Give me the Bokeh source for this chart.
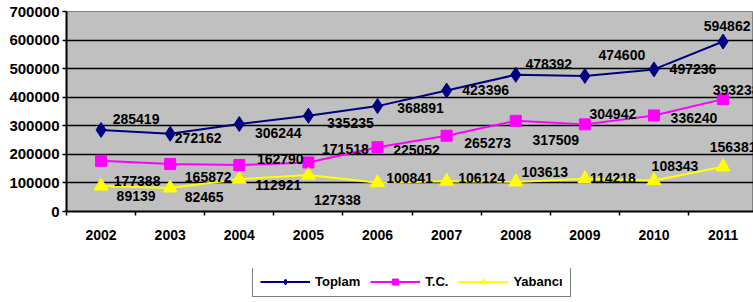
from bokeh.plotting import figure
from bokeh.layouts import column
from bokeh.models import (ColumnDataSource, FixedTicker, NumeralTickFormatter, Legend,
                          LegendItem, Range1d)
from bokeh.core.properties import value
from bokeh.embed import file_html
from bokeh.resources import INLINE

years = ["2002", "2003", "2004", "2005", "2006", "2007", "2008", "2009", "2010", "2011"]
toplam = [285419, 272162, 306244, 335235, 368891, 423396, 478392, 474600, 497236, 594862]
tc = [177388, 165872, 162790, 171518, 225052, 265273, 317509, 304942, 336240, 393238]
yabanci = [89139, 82465, 112921, 127338, 100841, 106124, 103613, 114218, 108343, 156381]
y_ticks = [0, 100000, 200000, 300000, 400000, 500000, 600000, 700000]
series_names = ["Toplam", "T.C.", "Yabancı"]

# label placement offsets (screen px) as in the original chart
toplam_dx = [35, 28, 39, 42, 43, 39, 33, 37, 39, 4]
toplam_dy = [-11, 4, 9, 7, 2, -1, -11, -21, 0, -16]
tc_dx = [36, 38, 41, 37, 39, 41, 40, 28, 40, 13]
tc_dy = [20, 13, -6, -13, 3, 7, 19, -10, 3, -9]
yab_dx = [35, 34, 39, 29, 32, 35, 29, 28, 21, 10]
yab_dy = [10, 9, 6, 25, -5, -3, -10, -1, -15, -20]

FONT = value("Liberation Sans")
xs = list(range(len(years)))

p = figure(width=753, height=268,
           x_range=Range1d(-0.5, 9.44), y_range=Range1d(0, 700000),
           output_backend="svg", toolbar_location=None,
           min_border_left=66, min_border_right=0, min_border_top=11, min_border_bottom=57,
           background_fill_color="#C0C0C0", border_fill_color="white",
           outline_line_color="#808080", outline_line_width=1)

# x axis
p.xaxis.ticker = FixedTicker(ticks=xs, minor_ticks=[i - 0.5 for i in range(len(years) + 1)])
p.xaxis.major_label_overrides = {i: y for i, y in enumerate(years)}
p.xaxis.major_tick_line_color = None
p.xaxis.major_tick_out = 4
p.xaxis.major_tick_in = 0
p.xaxis.minor_tick_out = 4
p.xaxis.minor_tick_in = 0
p.xaxis.minor_tick_line_color = "black"
p.xaxis.minor_tick_line_width = 1.5
p.xaxis.axis_line_color = "black"
p.xaxis.axis_line_width = 2
p.xaxis.major_label_standoff = 14
p.xaxis.major_label_text_font = "Liberation Sans"
p.xaxis.major_label_text_font_style = "bold"
p.xaxis.major_label_text_font_size = "14px"
p.xaxis.major_label_text_color = "black"

# y axis
p.yaxis.ticker = FixedTicker(ticks=y_ticks)
p.yaxis.formatter = NumeralTickFormatter(format="0")
p.yaxis.major_tick_out = 4
p.yaxis.major_tick_in = 0
p.yaxis.major_tick_line_color = "black"
p.yaxis.major_tick_line_width = 1.5
p.yaxis.minor_tick_line_color = None
p.yaxis.axis_line_color = "black"
p.yaxis.axis_line_width = 2
p.yaxis.major_label_standoff = 3
p.yaxis.major_label_text_font = "Liberation Sans"
p.yaxis.major_label_text_font_style = "bold"
p.yaxis.major_label_text_font_size = "15px"
p.yaxis.major_label_text_color = "black"

p.xgrid.visible = False
p.ygrid.ticker = FixedTicker(ticks=y_ticks[1:-1])
p.ygrid.grid_line_color = "black"
p.ygrid.grid_line_width = 1.5

styles = [("#000080", "diamond", 15), ("#FF00FF", "square", 11), ("#FFFF00", "triangle", 14)]
values = [toplam, tc, yabanci]
offsets = [(toplam_dx, toplam_dy), (tc_dx, tc_dy), (yab_dx, yab_dy)]

label_sources = []
for vals, (col, mk, sz), (dx, dy) in zip(values, styles, offsets):
    src = ColumnDataSource(dict(x=xs, y=vals, t=[str(v) for v in vals], dx=dx, dy=dy))
    p.line("x", "y", source=src, line_color=col, line_width=2)
    p.scatter("x", "y", source=src, marker=mk, size=sz, fill_color=col, line_color=col)
    label_sources.append(src)

for src in label_sources:
    p.text("x", "y", text="t", source=src, x_offset="dx", y_offset="dy",
           text_align="center", text_baseline="middle",
           text_font=FONT, text_font_style="bold", text_font_size="14px",
           text_color="black")

# legend strip below the chart (series re-plotted outside its view, so only the key shows)
lg = figure(width=753, height=34, output_backend="svg", toolbar_location=None,
            x_axis_type=None, y_axis_type=None,
            x_range=Range1d(0, 1), y_range=Range1d(-2, -1),
            min_border=0, outline_line_color=None,
            background_fill_color="white", border_fill_color="white")
lg.xgrid.visible = False
lg.ygrid.visible = False
items = []
for name, vals, (col, mk, sz) in zip(series_names, values, styles):
    rl = lg.line(xs, vals, line_color=col, line_width=2)
    rm = lg.scatter(xs, vals, marker=mk, size=sz - 4, fill_color=col, line_color=col)
    items.append(LegendItem(label=name, renderers=[rl, rm]))

legend = Legend(items=items, orientation="horizontal", location=(186, 5),
                margin=0, padding=7, spacing=10, label_standoff=5,
                glyph_width=50, glyph_height=15, label_height=15,
                label_text_font="Liberation Sans", label_text_font_style="bold",
                label_text_font_size="13px", label_text_color="black",
                border_line_color="black", border_line_width=1.5,
                background_fill_color="white", background_fill_alpha=1.0)
lg.add_layout(legend, "center")

open("out.html", "w").write(file_html(column(p, lg, spacing=0), INLINE))
